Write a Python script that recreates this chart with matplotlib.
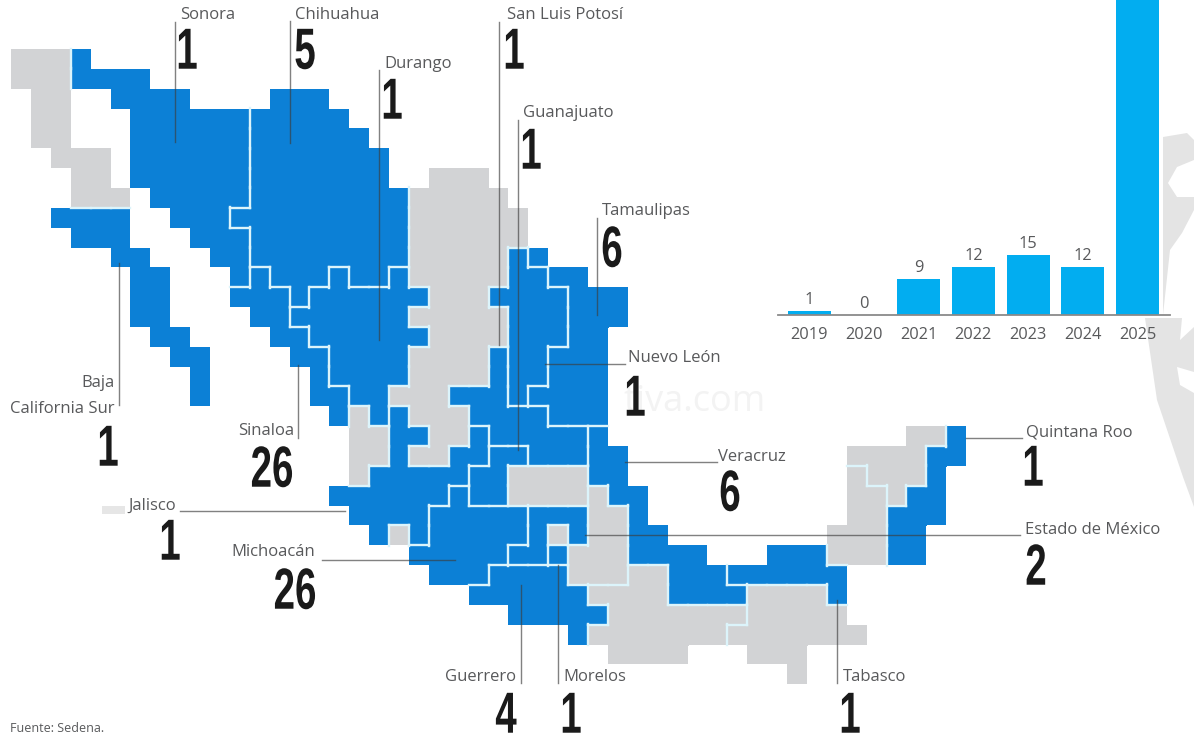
import matplotlib
matplotlib.use("Agg")
import matplotlib.pyplot as plt
from matplotlib.patches import Rectangle, Polygon
from matplotlib.patheffects import AbstractPathEffect
from matplotlib.transforms import Affine2D

W, H = 1194, 737

years = ["2019", "2020", "2021", "2022", "2023", "2024", "2025"]
yearly_cases = [1, 0, 9, 12, 15, 12, 85]

# tile-map: state -> (row, first column, last column)
blue_states = {
    "Sonora": [(0,3,3),(1,3,6),(2,5,8),(3,6,11),(4,6,11),(5,6,11),(6,6,11),(7,7,11),(8,8,10),(9,9,11),(10,10,11),(11,11,11)],
    "Chihuahua": [(2,13,15),(3,12,16),(4,12,17),(5,12,18),(6,12,18),(7,12,19),(8,11,19),(9,12,19),(10,12,19),(11,13,15),(11,17,18),(12,14,14)],
    "Durango": [(11,16,16),(11,19,19),(12,15,20),(13,14,19),(14,15,20),(15,16,19),(16,16,19),(17,17,18),(18,18,18)],
    "BCS": [(8,2,5),(9,3,5),(10,5,6),(11,6,7),(12,6,7),(13,6,7),(14,7,8),(15,8,9),(16,9,9),(17,9,9)],
    "Sinaloa": [(11,12,12),(12,11,13),(13,12,13),(14,13,14),(15,14,15),(16,15,15),(17,15,16),(18,16,16)],
    "Jalisco": [(18,19,19),(19,19,20),(19,23,23),(20,19,19),(20,22,23),(21,18,22),(22,16,21),(23,17,20),(24,18,18),(24,20,20)],
    "NuevoLeon": [(10,25,25),(11,25,26),(12,24,27),(13,25,27),(14,25,27),(15,25,26),(16,25,26),(17,25,25)],
    "NuevoLeonNorte": [(10,26,26)],
    "Tamaulipas": [(11,27,28),(12,28,30),(13,28,30),(14,28,29),(15,27,29),(16,27,29),(17,26,29),(18,27,29)],
    "SLP": [(15,24,24),(16,24,24),(17,22,24),(18,23,26),(19,24,28),(20,26,28)],
    "Guanajuato": [(20,24,25),(21,23,24),(22,23,24)],
    "Michoacan": [(22,22,22),(23,21,25),(24,21,25),(25,20,24),(26,21,23)],
    "EdoMex": [(23,26,28),(24,26,26),(24,28,28),(25,25,26)],
    "Morelos": [(25,27,27)],
    "Guerrero": [(26,24,27),(27,23,28),(28,25,29),(29,28,28)],
    "Veracruz": [(19,29,29),(20,29,30),(21,29,30),(22,30,31),(23,31,31),(24,31,32),(25,31,34),(26,33,35),(27,33,36)],
    "Tabasco": [(25,38,40),(26,36,41),(27,41,41)],
    "QRoo": [(19,47,47),(20,46,47),(21,46,46),(22,45,46),(23,44,46),(24,44,45),(25,44,45)],
}
gray_states = {
    "BC": [(0,0,2),(1,0,2),(2,1,2),(3,1,2),(4,1,2),(5,2,4),(6,3,4),(7,3,5)],
    "Centro": [(6,21,23),(7,20,24),(8,20,25),(9,20,25),(10,20,24),(11,20,24),(12,21,23),(13,20,24),(14,21,24),(15,20,23),(16,20,23),(17,19,21),(18,20,22),(19,21,22),(20,20,21)],
    "Nayarit": [(18,17,17),(19,17,18),(20,17,18),(21,17,17)],
    "Colima": [(24,19,19)],
    "Hidalgo": [(21,25,28),(22,25,28)],
    "CDMX": [(24,27,27)],
    "Puebla": [(22,29,29),(23,29,30),(24,29,30),(25,28,30),(26,28,30)],
    "Oaxaca": [(26,31,32),(27,29,32),(28,30,36),(29,29,35),(30,30,33)],
    "Chiapas": [(27,37,40),(28,37,41),(29,36,42),(30,37,39),(31,39,39)],
    "Yucatan": [(19,45,46),(20,42,45),(21,43,45),(22,44,44)],
    "Campeche": [(21,42,42),(22,42,43),(23,42,43),(24,41,43),(25,41,43)],
}
callouts = [
    ("Sonora", "1"), ("Chihuahua", "5"), ("Durango", "1"), ("San Luis Potosí", "1"),
    ("Guanajuato", "1"), ("Tamaulipas", "6"), ("Nuevo León", "1"), ("Sinaloa", "26"),
    ("Jalisco", "1"), ("Michoacán", "26"), ("Veracruz", "6"), ("Quintana Roo", "1"),
    ("Estado de México", "2"), ("Tabasco", "1"), ("Guerrero", "4"), ("Morelos", "1"),
]
label_pos = [(180,15,187,50),(295,15,305,50),(384,64,392,100),(507,15,514,50),
             (523,113,531,150),(602,211,612,248),(628,358,635,397),(238,431,272,468),
             (128,506,170,541),(231,552,295,590),(718,457,730,492),(1026,432,1033,467),
             (1025,530,1036,566),(843,677,850,714),(445,677,506,714),(563,677,571,714)]
leaders = [((175,22),(175,142)),((290,21),(290,143)),((379,70),(379,340)),((499,22),(499,345)),
           ((518,120),(518,450)),((597,218),(597,315)),((545,364),(625,364)),((119,263),(119,405)),
           ((298,365),(298,438)),((180,511),(345,511)),((322,560),(455,560)),((625,462),(717,462)),
           ((966,438),(1022,438)),((585,535),(1020,535)),((837,600),(837,683)),((521,585),(521,683)),
           ((558,565),(558,683))]

X0, PX, Y0, PY = 11.0, 19.9, 49.0, 19.85
BLUE, GRAY, EDGE, TXT, BIG = "#0c80d6", "#d2d3d5", "#dcf4fb", "#58595b", "#1a1a1a"
LABEL_SIZE, YEAR_SIZE = 12.0, 11.8
plt.rcParams["font.family"] = ["Open Sans", "DejaVu Sans"]


class Condensed(AbstractPathEffect):
    """Draw a text's glyphs as a tall condensed face, stretched about the anchor point."""
    def __init__(self, cx, cy, sx, sy, drop):
        super().__init__()
        self.cx, self.cy, self.sx, self.sy, self.drop = cx, cy, sx, sy, drop

    def draw_path(self, renderer, gc, tpath, affine, rgbFace=None):
        t = affine + (Affine2D().translate(-self.cx, -self.cy - self.drop)
                      .scale(self.sx, self.sy).translate(self.cx, self.cy))
        renderer.draw_path(gc, tpath, t, rgbFace)


fig = plt.figure(figsize=(W/100, H/100), dpi=100, facecolor="white")
ax = fig.add_axes([0, 0, 1, 1])
ax.set_xlim(0, W); ax.set_ylim(H, 0); ax.axis("off")


def big_number(x, y, s):
    ax.text(x, y, s, family="Liberation Sans", fontweight="bold", fontsize=29, color=BIG,
            ha="center", va="center", zorder=5,
            path_effects=[Condensed(x, H - y, 0.956, 1.44, 2.0)])


# faint background seal at the right edge and stray watermark bits
seal_shapes = [
    [(1163,137),(1187,133),(1194,140),(1194,160),(1177,167),(1168,183),(1177,197),(1194,197),(1194,210),(1182,233),(1170,250),(1163,315)],
    [(1145,318),(1182,318),(1180,340),(1194,327),(1194,507),(1183,477),(1157,400)],
]
for poly in seal_shapes:
    ax.add_patch(Polygon(poly, closed=True, fc="#e4e4e4", ec="none", zorder=0))
ax.add_patch(Polygon([(1177,367),(1194,372),(1194,393),(1180,385)], closed=True, fc="white", ec="none", zorder=0))
ax.add_patch(Rectangle((102, 506), 23, 8, fc="#e6e6e6", ec="none", zorder=0))
ax.text(765, 402, "tiva.com", fontsize=26, color="#f3f3f3", ha="right", va="center", zorder=0)


def cells(spans):
    out = set()
    for r, a, b in spans:
        for c in range(a, b + 1):
            out.add((r, c))
    return out


owner, colour = {}, {}
for group, col in ((gray_states, GRAY), (blue_states, BLUE)):
    for name, spans in group.items():
        for key in cells(spans):
            owner[key] = name
            colour[key] = col

for (r, c), col in colour.items():
    w = PX + (1 if (r, c+1) in colour else 0)
    h = PY + (1 if (r+1, c) in colour else 0)
    ax.add_patch(Rectangle((X0+c*PX, Y0+r*PY), w, h, fc=col, ec="none", lw=0.0,
                           antialiased=False, zorder=2 if col == GRAY else 2.1))

# borders between neighbouring states
for (r, c), name in owner.items():
    x, y = X0+c*PX, Y0+r*PY
    if owner.get((r, c+1), name) != name:
        ax.plot([x+PX, x+PX], [y-0.5, y+PY+0.5], color=EDGE, lw=1.7, zorder=3, solid_capstyle="projecting")
    if owner.get((r+1, c), name) != name:
        ax.plot([x, x+PX], [y+PY, y+PY], color=EDGE, lw=1.7, zorder=3, solid_capstyle="projecting")

for (a, b) in leaders:
    ax.plot([a[0], b[0]], [a[1], b[1]], color="#3d3d3d", lw=1.0, alpha=0.65, zorder=4)

for (name, n), (lx, ly, nx, ny) in zip(callouts, label_pos):
    ax.text(lx, ly, name, fontsize=LABEL_SIZE, color=TXT, ha="left", va="center", zorder=5)
    big_number(nx, ny, n)

ax.text(115, 383, "Baja", fontsize=LABEL_SIZE, color=TXT, ha="right", va="center", zorder=5)
ax.text(115, 409, "California Sur", fontsize=LABEL_SIZE, color=TXT, ha="right", va="center", zorder=5)
big_number(108, 447, "1")
ax.text(10, 729, "Fuente: Sedena.", fontsize=9.0, color=TXT, ha="left", va="center", zorder=5)

# yearly bars
bx = fig.add_axes([778/W, 1-315/H, (1170-778)/W, 315/H])
bx.patch.set_alpha(0)
pos = list(range(len(years)))
bx.bar(pos, yearly_cases, width=0.785, color="#02adf0", zorder=2)
bx.set_xlim(-0.566, 6.59); bx.set_ylim(0, 78.75)
for s in ("top", "left", "right"):
    bx.spines[s].set_visible(False)
bx.spines["bottom"].set_color("#8a8a8a"); bx.spines["bottom"].set_linewidth(1.3)
bx.set_yticks([]); bx.set_xticks(pos); bx.set_xticklabels(years, fontsize=YEAR_SIZE, color=TXT)
bx.tick_params(axis="x", length=0, pad=9)
for p, v in zip(pos[:-1], yearly_cases[:-1]):
    bx.text(p, v + 0.7, str(v), fontsize=YEAR_SIZE, color=TXT, ha="center", va="bottom")

fig.savefig("out.png", dpi=100, facecolor="white")
